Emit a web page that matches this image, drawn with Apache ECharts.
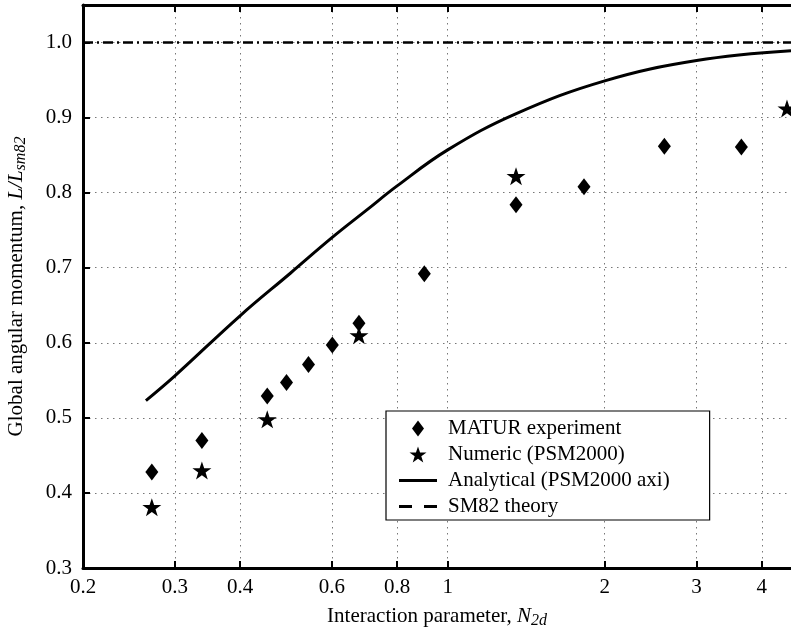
<!DOCTYPE html>
<html>
<head>
<meta charset="utf-8">
<script src="https://cdn.jsdelivr.net/npm/echarts@6/dist/echarts.min.js"></script>
<style>html,body{margin:0;padding:0;background:#fff}#c{width:791px;height:632px}</style>
</head>
<body>
<div id="c"></div>
<script>
// ---- data ----
const xTicks = [0.2, 0.3, 0.4, 0.6, 0.8, 1, 2, 3, 4];
const yTicks = [0.3, 0.4, 0.5, 0.6, 0.7, 0.8, 0.9, 1.0];
const xMin = 0.2, xMax = 4.55, yMin = 0.3, yMax = 1.05;

const maturX = [0.271, 0.338, 0.451, 0.491, 0.541, 0.601, 0.676, 0.902, 1.352, 1.825, 2.602, 3.655];
const maturY = [0.428, 0.470, 0.529, 0.547, 0.571, 0.597, 0.626, 0.692, 0.784, 0.808, 0.862, 0.861];

const numX = [0.271, 0.338, 0.451, 0.676, 1.352, 4.47];
const numY = [0.381, 0.430, 0.498, 0.610, 0.822, 0.912];

const anaX = [0.264, 0.3, 0.4, 0.5, 0.6, 0.7, 0.8, 1.0, 1.35, 2.0, 3.0, 4.55];
const anaY = [0.523, 0.556, 0.636, 0.693, 0.740, 0.777, 0.809, 0.857, 0.905, 0.949, 0.976, 0.989];

const sm82X = [0.2, 4.55];
const sm82Y = [1.0, 1.0];

const names = ['MATUR experiment', 'Numeric (PSM2000)', 'Analytical (PSM2000 axi)', 'SM82 theory'];

// ---- build ----
const L = Math.log10;
const pts = (xs, ys) => xs.map((x, i) => [L(x), ys[i]]);
const FONT = '"Liberation Serif", "Times New Roman", serif';
const FS = 21;
const STAR = 'path://M50,0 L61.8,35.1 L98.9,35.1 L69,56.7 L80.3,91.9 L50,70.3 L19.7,91.9 L31,56.7 L1.1,35.1 L38.2,35.1 Z';
const DIAMOND = 'path://M6,0 L12,8 L6,16 L0,8 Z';
const SOLID = 'path://M0,0 L38,0 L38,3 L0,3 Z';
const DASH2 = 'path://M0,0 L13,0 L13,3 L0,3 Z M25,0 L38,0 L38,3 L25,3 Z';

const fmtX = v => {
  const r = Math.pow(10, v);
  return String(Math.round(r * 10) / 10);
};

const chart = echarts.init(document.getElementById('c'), null, {renderer: 'canvas'});
chart.setOption({
  animation: false,
  backgroundColor: '#fff',
  grid: {left: 83, top: 5, right: 0, bottom: 64, containLabel: false, outerBoundsMode: 'none'},
  xAxis: [{
    type: 'value', min: L(xMin), max: L(xMax),
    axisLine: {show: true, onZero: false, lineStyle: {color: '#000', width: 3}},
    axisTick: {show: true, inside: true, length: 7, lineStyle: {color: '#000', width: 2}, customValues: xTicks.map(L)},
    axisLabel: {customValues: xTicks.map(L), formatter: fmtX, color: '#000', fontFamily: FONT, fontSize: FS, margin: 9, showMinLabel: true, showMaxLabel: true},
    splitLine: {show: true, lineStyle: {color: '#777', width: 1, type: [1.5, 4.5]}},
    name: '{n|Interaction parameter, }{i|N}{s|2d}',
    nameLocation: 'middle', nameGap: 35,
    nameTextStyle: {
      rich: {
        n: {fontFamily: FONT, fontSize: FS, color: '#000'},
        i: {fontFamily: FONT, fontSize: FS, fontStyle: 'italic', color: '#000'},
        s: {fontFamily: FONT, fontSize: 16, fontStyle: 'italic', color: '#000', padding: [10, 0, 0, 0]}
      }
    }
  }, {
    type: 'value', position: 'top', min: L(xMin), max: L(xMax),
    axisLine: {show: true, onZero: false, lineStyle: {color: '#000', width: 3}},
    axisTick: {show: true, inside: true, length: 7, lineStyle: {color: '#000', width: 2}, customValues: xTicks.map(L)},
    axisLabel: {show: false},
    splitLine: {show: false}
  }],
  yAxis: {
    type: 'value', min: yMin, max: yMax,
    axisLine: {show: true, onZero: false, lineStyle: {color: '#000', width: 3}},
    axisTick: {show: true, inside: true, length: 7, lineStyle: {color: '#000', width: 2}, customValues: yTicks},
    axisLabel: {customValues: yTicks, formatter: v => v.toFixed(1), color: '#000', fontFamily: FONT, fontSize: FS, margin: 11},
    splitLine: {show: true, lineStyle: {color: '#777', width: 1, type: [1.5, 4.5]}},
    name: '{n|Global angular momentum, }{i|L/L}{s|sm82}',
    nameLocation: 'middle', nameRotate: 90, nameGap: 54,
    nameTextStyle: {
      rich: {
        n: {fontFamily: FONT, fontSize: FS, color: '#000'},
        i: {fontFamily: FONT, fontSize: FS, fontStyle: 'italic', color: '#000'},
        s: {fontFamily: FONT, fontSize: 16, fontStyle: 'italic', color: '#000', padding: [10, 0, 0, 0]}
      }
    }
  },
  legend: {
    orient: 'vertical', left: 386, top: 411,
    backgroundColor: '#fff', borderColor: '#000', borderWidth: 1.2, borderRadius: 0,
    padding: [7, 40, 3, 13],
    itemWidth: 38, itemHeight: 16, itemGap: 5,
    symbolKeepAspect: true,
    textStyle: {fontFamily: FONT, fontSize: FS, color: '#000', padding: [0, 0, 0, 6]},
    data: [
      {name: names[0], icon: DIAMOND},
      {name: names[1], icon: STAR},
      {name: names[2], icon: SOLID},
      {name: names[3], icon: DASH2}
    ]
  },
  series: [
    {
      name: names[3], type: 'line', data: pts(sm82X, sm82Y), symbol: 'none',
      lineStyle: {color: '#000', width: 2.4, type: [10, 4, 2, 4]}, itemStyle: {color: '#000'}, z: 3
    },
    {
      name: names[2], type: 'line', data: pts(anaX, anaY), symbol: 'none', smooth: 0.4,
      lineStyle: {color: '#000', width: 3}, itemStyle: {color: '#000'}, z: 3
    },
    {
      name: names[0], type: 'scatter', data: pts(maturX, maturY), symbol: 'diamond', symbolSize: [13, 17],
      itemStyle: {color: '#000', opacity: 1}, z: 4
    },
    {
      name: names[1], type: 'scatter', data: pts(numX, numY), symbol: STAR, symbolSize: [19, 18],
      itemStyle: {color: '#000', opacity: 1}, z: 4, clip: false
    }
  ]
});
</script>
</body>
</html>
